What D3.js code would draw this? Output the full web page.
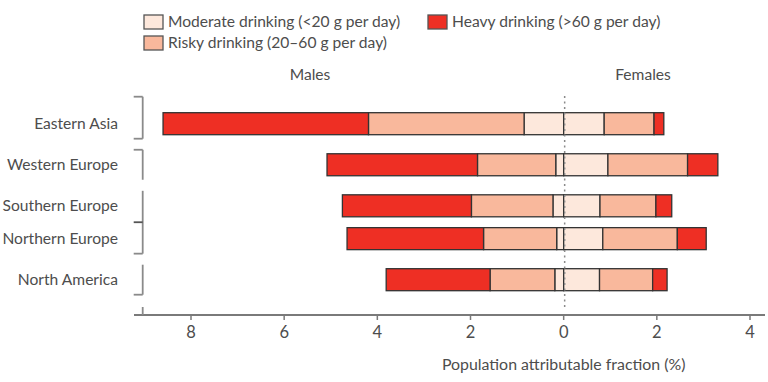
<!DOCTYPE html>
<html><head><meta charset="utf-8">
<script src="https://cdn.jsdelivr.net/npm/d3@7"></script>
<style>
html,body{margin:0;padding:0;background:#fff;}
svg{display:block;font-family:Lato,"Noto Sans",sans-serif;}
</style></head>
<body><svg id="c" width="768" height="382"></svg>
<script>
const regions = ["Eastern Asia","Western Europe","Southern Europe","Northern Europe","North America"];
const regionGroups = [["Eastern Asia"],["Western Europe"],["Southern Europe","Northern Europe"],["North America"]];
const drinkLevels = ["Moderate drinking (<20 g per day)","Risky drinking (20\u201360 g per day)","Heavy drinking (>60 g per day)"];
// population attributable fraction (%) by level: moderate, risky, heavy
const malesModerate = [0.85, 0.17, 0.23, 0.15, 0.19];
const malesRisky    = [3.34, 1.68, 1.75, 1.57, 1.39];
const malesHeavy    = [4.41, 3.23, 2.77, 2.93, 2.23];
const femalesModerate = [0.87, 0.95, 0.78, 0.84, 0.77];
const femalesRisky    = [1.07, 1.71, 1.20, 1.60, 1.14];
const femalesHeavy    = [0.21, 0.65, 0.34, 0.62, 0.31];
const xTicks = [-8,-6,-4,-2,0,2,4];
const xTitle = "Population attributable fraction (%)";

const colors = ["#fde8dc","#f9b89c","#ee2f24"];
const svg = d3.select("#c");
const textColor = "#4d4d4d";
const fs = 15.6;

const x = d3.scaleLinear().domain([-8,4]).range([191,750]);

// vertical layout: groups one step apart, rows within a group closer
const rowStep = 0.8;
const pos = {};
let p = 0;
regionGroups.forEach((g,gi)=>{
  if (gi>0) p += 1;
  g.forEach((r,ri)=>{ if (ri>0) p += rowStep; pos[r] = p; });
});
const maxPos = p;
const y = d3.scaleLinear().domain([0,maxPos]).range([123.7,279.7]);
const barH = 22;

// stacked segments
const segs = [];
regions.forEach((r,i)=>{
  const m = [malesModerate[i], malesRisky[i], malesHeavy[i]];
  const f = [femalesModerate[i], femalesRisky[i], femalesHeavy[i]];
  let acc = 0;
  m.forEach((v,k)=>{ segs.push({r, k, x0:-(acc+v), x1:-acc}); acc+=v; });
  acc = 0;
  f.forEach((v,k)=>{ segs.push({r, k, x0:acc, x1:acc+v}); acc+=v; });
});

svg.append("g").selectAll("rect").data(segs).join("rect")
  .attr("x", d=>x(d.x0)).attr("width", d=>x(d.x1)-x(d.x0))
  .attr("y", d=>y(pos[d.r])-barH/2).attr("height", barH)
  .attr("fill", d=>colors[d.k]).attr("stroke","#333").attr("stroke-width",1.3);

// zero dotted line
svg.append("line").attr("x1",x(0)+1).attr("x2",x(0)+1).attr("y1",96).attr("y2",310)
  .attr("stroke","#8a8a8a").attr("stroke-width",1.5).attr("stroke-dasharray","2,3.5");

// x axis
const axY = 315;
svg.append("line").attr("x1",134).attr("x2",765).attr("y1",axY).attr("y2",axY)
  .attr("stroke","#7a7a7a").attr("stroke-width",1.8);
svg.append("g").selectAll("line").data(xTicks).join("line")
  .attr("x1",d=>x(d)).attr("x2",d=>x(d)).attr("y1",axY).attr("y2",axY+5)
  .attr("stroke","#7a7a7a").attr("stroke-width",1.5);
svg.append("g").selectAll("text").data(xTicks).join("text")
  .attr("x",d=>x(d)).attr("y",axY+23).attr("text-anchor","middle")
  .attr("font-size",16.5).attr("fill",textColor).text(d=>Math.abs(d));
svg.append("text").attr("x",x(0)).attr("y",370).attr("text-anchor","middle")
  .attr("font-size",15.9).attr("fill",textColor).text(xTitle);

// left brackets
const bx = 142.7, tickLen = 9;
const brCol = "#8a8a8a";
const bg = svg.append("g").attr("stroke",brCol).attr("stroke-width",1.8).attr("fill","none");
const bracketTicks = [["top","bottom"],["top"],["mid","bottom"],["bottom"]];
regionGroups.forEach((g,gi)=>{
  const top = y(pos[g[0]]) - (gi===0 ? 27 : 15);
  const bot = y(pos[g[g.length-1]]) + 15;
  bg.append("line").attr("x1",bx).attr("x2",bx).attr("y1",top).attr("y2",bot);
  bracketTicks[gi].forEach(t=>{
    const ty = t==="top"?top : t==="bottom"?bot : (y(pos[g[0]])+y(pos[g[1]]))/2;
    bg.append("line").attr("x1",bx-tickLen).attr("x2",bx).attr("y1",ty).attr("y2",ty)
      .attr("stroke", t==="mid" ? "#555" : brCol);
  });
});
bg.append("line").attr("x1",bx).attr("x2",bx).attr("y1",307).attr("y2",axY);

// region labels
svg.append("g").selectAll("text").data(regions).join("text")
  .attr("x",118).attr("y",d=>y(pos[d])).attr("dy","0.35em").attr("text-anchor","end")
  .attr("font-size",fs).attr("fill",textColor).text(d=>d);

// Males / Females
svg.append("text").attr("x",310).attr("y",75).attr("dy","0.35em").attr("text-anchor","middle")
  .attr("font-size",fs).attr("fill",textColor).text("Males");
svg.append("text").attr("x",643).attr("y",75).attr("dy","0.35em").attr("text-anchor","middle")
  .attr("font-size",fs).attr("fill",textColor).text("Females");

// legend
const legItems = [
  {k:0, lx:144, ly:22},
  {k:2, lx:428, ly:22},
  {k:1, lx:144, ly:43}
];
const lg = svg.append("g");
lg.selectAll("rect").data(legItems).join("rect")
  .attr("x",d=>d.lx).attr("y",d=>d.ly-7).attr("width",19).attr("height",14)
  .attr("fill",d=>colors[d.k]).attr("stroke","#555").attr("stroke-width",1.3);
lg.selectAll("text").data(legItems).join("text")
  .attr("x",d=>d.lx+24).attr("y",d=>d.ly).attr("dy","0.35em")
  .attr("font-size",fs).attr("fill",textColor).text(d=>drinkLevels[d.k]);
</script></body></html>
